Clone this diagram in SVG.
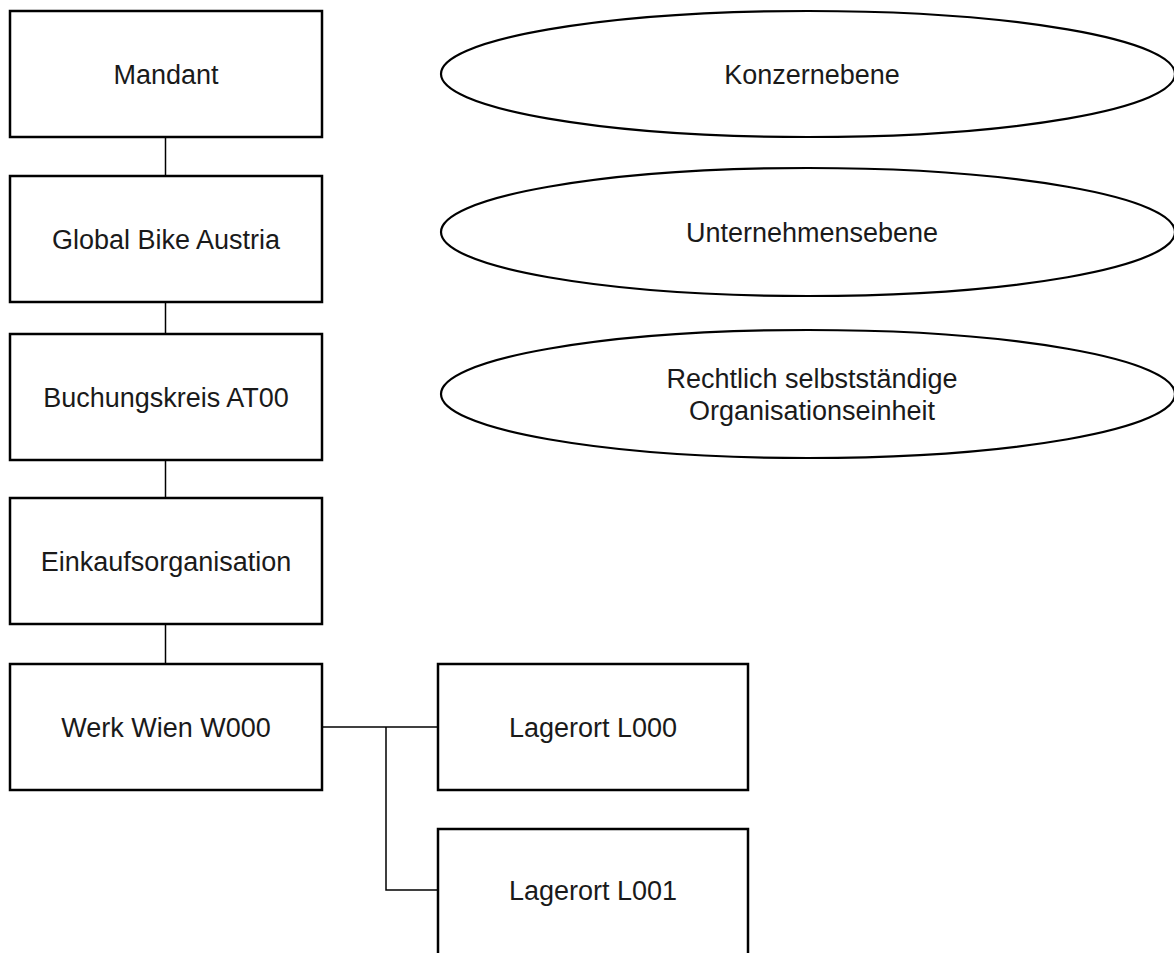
<svg xmlns="http://www.w3.org/2000/svg" width="1174" height="953" viewBox="0 0 1174 953">
  <style>
    .box { fill: #ffffff; stroke: #000000; stroke-width: 2.5; }
    .oval { fill: #ffffff; stroke: #000000; stroke-width: 2.2; }
    .lbl { font-family: "Liberation Sans", Arial, sans-serif; font-size: 27px; fill: #1a1a1a; text-anchor: middle; }
    .wire { fill: none; stroke: #000000; stroke-width: 1.5; }
  </style>
  <rect x="0" y="0" width="1174" height="953" fill="#ffffff"/>

  <!-- connectors -->
  <g id="connectors">
    <line class="wire" x1="165.5" y1="137" x2="165.5" y2="176"/>
    <line class="wire" x1="165.5" y1="302" x2="165.5" y2="334"/>
    <line class="wire" x1="165.5" y1="460" x2="165.5" y2="498"/>
    <line class="wire" x1="165.5" y1="624" x2="165.5" y2="664"/>
    <polyline class="wire" points="322,727 438,727"/>
    <polyline class="wire" points="386,727 386,890 438,890"/>
  </g>

  <!-- hierarchy boxes -->
  <g id="mandant">
    <rect class="box" x="10" y="11" width="312" height="126"/>
    <text class="lbl" x="166" y="84">Mandant</text>
  </g>
  <g id="global-bike-austria">
    <rect class="box" x="10" y="176" width="312" height="126"/>
    <text class="lbl" x="166" y="249">Global Bike Austria</text>
  </g>
  <g id="buchungskreis">
    <rect class="box" x="10" y="334" width="312" height="126"/>
    <text class="lbl" x="166" y="407">Buchungskreis AT00</text>
  </g>
  <g id="einkaufsorganisation">
    <rect class="box" x="10" y="498" width="312" height="126"/>
    <text class="lbl" x="166" y="571">Einkaufsorganisation</text>
  </g>
  <g id="werk-wien">
    <rect class="box" x="10" y="664" width="312" height="126"/>
    <text class="lbl" x="166" y="737">Werk Wien W000</text>
  </g>
  <g id="lagerort-l000">
    <rect class="box" x="438" y="664" width="310" height="126"/>
    <text class="lbl" x="593" y="737">Lagerort L000</text>
  </g>
  <g id="lagerort-l001">
    <rect class="box" x="438" y="829" width="310" height="140"/>
    <text class="lbl" x="593" y="900">Lagerort L001</text>
  </g>

  <!-- level ovals -->
  <g id="konzernebene">
    <ellipse class="oval" cx="808" cy="74" rx="367" ry="63"/>
    <text class="lbl" x="812" y="84">Konzernebene</text>
  </g>
  <g id="unternehmensebene">
    <ellipse class="oval" cx="808" cy="232" rx="367" ry="64"/>
    <text class="lbl" x="812" y="242">Unternehmensebene</text>
  </g>
  <g id="rechtliche-einheit">
    <ellipse class="oval" cx="808" cy="394" rx="367" ry="64"/>
    <text class="lbl" x="812" y="388">Rechtlich selbstständige</text>
    <text class="lbl" x="812" y="420">Organisationseinheit</text>
  </g>
</svg>
